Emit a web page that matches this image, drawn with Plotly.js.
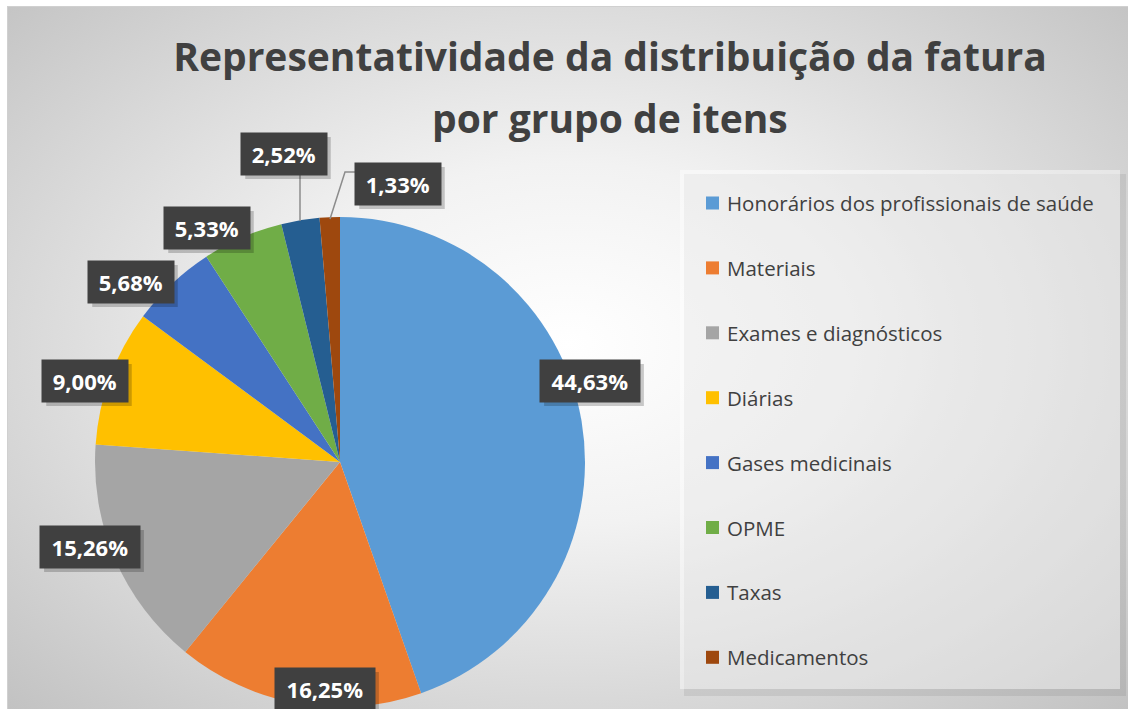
<!DOCTYPE html>
<html>
<head>
<meta charset="utf-8">
<script src="https://cdn.plot.ly/plotly-3.0.1.min.js"></script>
<style>
html,body{margin:0;padding:0;background:#fff;}
#bg{position:absolute;left:7px;top:6px;width:1121px;height:703px;
 background:radial-gradient(ellipse farthest-corner at 50% 48%, #ffffff 0%, #f2f2f2 35%, #c2c2c2 100%);
 border-top:1px solid #d0d0d0;border-left:1px solid #d0d0d0;box-sizing:border-box;}
#chart{position:absolute;left:0;top:0;width:1128px;height:709px;}
</style>
</head>
<body>
<div id="bg"></div>
<div id="chart"></div>
<script>
// ---- data ----
const categories = ["Honorários dos profissionais de saúde","Materiais","Exames e diagnósticos","Diárias","Gases medicinais","OPME","Taxas","Medicamentos"];
const values = [44.63, 16.25, 15.26, 9.00, 5.68, 5.33, 2.52, 1.33];
const colors = ["#5B9BD5","#ED7D31","#A5A5A5","#FFC000","#4472C4","#70AD47","#255E91","#9E480E"];
const titleLines = ["Representatividade da distribuição da fatura", "por grupo de itens"];

// ---- layout helpers (pixel -> paper) ----
const W = 1128, H = 709;
const px = x => x / W;
const py = y => 1 - y / H;

const cx = 340, cy = 462, R = 245;
// data label centres (px)
const labelPos = [[590,381],[325,689],[90,547],[85,381],[131,282],[207,228],[284,154],[398,184]];

const fmt = v => v.toFixed(2).replace('.', ',') + '%';

const annotations = [];
const shapes = [];

// legend box shadow + box
shapes.push({type:'rect', xref:'paper', yref:'paper', x0:px(684), x1:px(1126), y0:py(174), y1:py(696),
  fillcolor:'rgba(0,0,0,0.07)', line:{width:0}, layer:'below'});
shapes.push({type:'rect', xref:'paper', yref:'paper', x0:px(680), x1:px(1120), y0:py(170), y1:py(689),
  fillcolor:'rgba(255,255,255,0.45)', line:{width:0}, layer:'below'});

// leader lines
const lineStyle = {color:'#8c8c8c', width:1.5};
shapes.push({type:'line', xref:'paper', yref:'paper', x0:px(300), y0:py(174), x1:px(300), y1:py(221), line:lineStyle});
shapes.push({type:'path', xref:'paper', yref:'paper', line:lineStyle,
  path:`M ${px(356)} ${py(172)} L ${px(345)} ${py(172)} L ${px(330)} ${py(219)}`});

// data labels (with drop shadow)
labelPos.forEach((p, i) => {
  const t = fmt(values[i]);
  const w = 14.3 * t.length + 14, h = 42;
  shapes.push({type:'rect', xref:'paper', yref:'paper', x0:px(p[0] - w/2 + 4), x1:px(p[0] + w/2 + 4),
    y0:py(p[1] + h/2 + 4), y1:py(p[1] - h/2 + 4), fillcolor:'rgba(0,0,0,0.2)', line:{width:0}});
  annotations.push({x: px(p[0]), y: py(p[1]), xref:'paper', yref:'paper', showarrow:false,
    text: t, font:{family:'Open Sans', size:22, color:'#ffffff', weight:'bold'},
    bgcolor:'#404040', borderpad:0, width: w, height: h, xanchor:'center', yanchor:'middle'});
});

// manual legend
categories.forEach((c, i) => {
  const yc = 203 + i * 64.9;
  shapes.push({type:'rect', xref:'paper', yref:'paper', x0:px(706), x1:px(719), y0:py(yc - 6.5), y1:py(yc + 6.5),
    fillcolor: colors[i], line:{width:0}});
  annotations.push({x: px(725), y: py(yc), xref:'paper', yref:'paper', showarrow:false, text: c,
    xanchor:'left', yanchor:'middle', font:{family:'Open Sans', size:20.5, color:'#404040'}});
});

// second title line
annotations.push({x: px(610), y: py(118), xref:'paper', yref:'paper', showarrow:false, text: titleLines[1],
  xanchor:'center', yanchor:'middle', font:{family:'Open Sans', size:39, color:'#404040', weight:'bold'}});

const trace = {
  type:'pie', labels: categories, values: values, sort:false, direction:'clockwise', rotation:0,
  marker:{colors: colors, line:{width:0}}, textinfo:'none', hoverinfo:'label+percent',
  domain:{x:[px(cx - R), px(cx + R)], y:[py(cy + R), py(cy - R)]}, showlegend:false
};

const layout = {
  width: W, height: H, margin:{l:0,r:0,t:0,b:0},
  paper_bgcolor:'rgba(0,0,0,0)', plot_bgcolor:'rgba(0,0,0,0)',
  title:{text: titleLines[0], x: px(610), xanchor:'center', xref:'paper', y: py(57), yref:'container', yanchor:'middle',
    font:{family:'Open Sans', size:39, color:'#404040', weight:'bold'}},
  shapes: shapes, annotations: annotations, showlegend:false
};

Plotly.newPlot('chart', [trace], layout, {displayModeBar:false, staticPlot:true});
</script>
</body>
</html>
